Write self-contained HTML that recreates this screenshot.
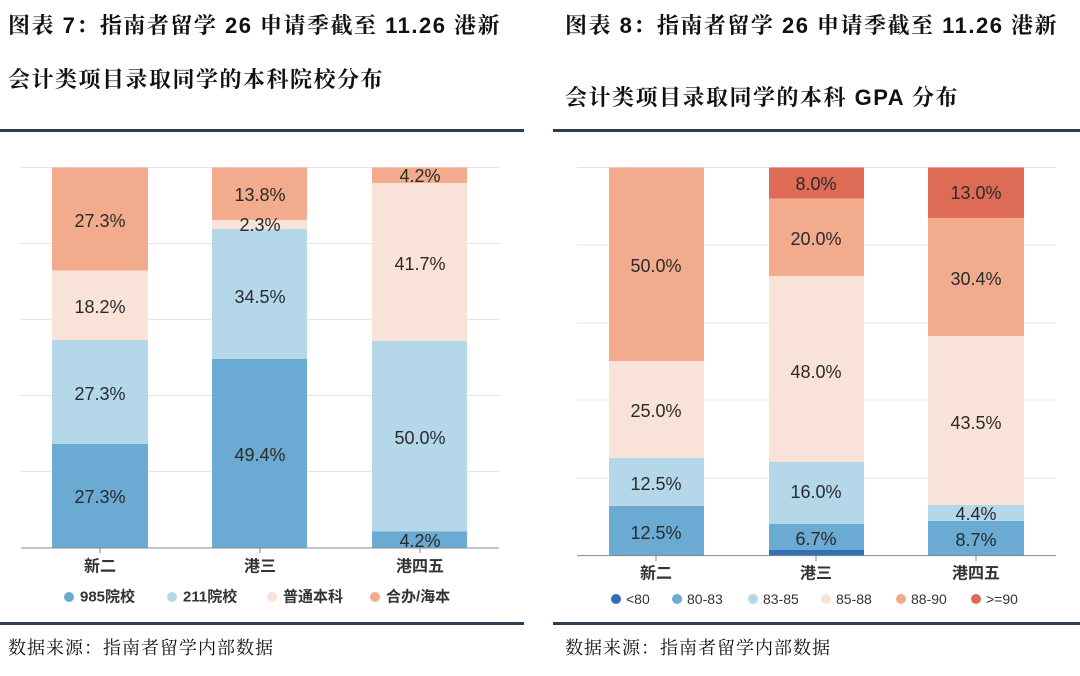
<!DOCTYPE html>
<html><head><meta charset="utf-8"><style>
body{margin:0;width:1080px;height:676px;background:#fff;overflow:hidden;position:relative;font-family:"Liberation Sans","Noto Sans CJK SC",sans-serif}
.t{position:absolute;font-family:"Liberation Sans","Noto Serif CJK SC",serif;font-size:22px;font-weight:bold;color:#111;white-space:nowrap;letter-spacing:1.5px}
.s{position:absolute;font-family:"Liberation Sans","Noto Serif CJK SC",serif;font-size:18px;color:#111;white-space:nowrap;letter-spacing:1px}
.r{position:absolute;height:3px;background:#2d3e50}
</style></head><body>
<div class="t" style="left:8px;top:9px">图表 7：指南者留学 26 申请季截至 11.26 港新</div>
<div class="t" style="left:8px;top:63px">会计类项目录取同学的本科院校分布</div>
<div class="t" style="left:565px;top:9px">图表 8：指南者留学 26 申请季截至 11.26 港新</div>
<div class="t" style="left:565px;top:81px">会计类项目录取同学的本科 GPA 分布</div>
<div class="r" style="left:0;width:524px;top:129px"></div>
<div class="r" style="left:553px;width:527px;top:129px"></div>
<div class="r" style="left:0;width:524px;top:622px"></div>
<div class="r" style="left:553px;width:527px;top:622px"></div>
<div class="s" style="left:8px;top:634px">数据来源：指南者留学内部数据</div>
<div class="s" style="left:565px;top:634px">数据来源：指南者留学内部数据</div>
<svg width="1080" height="676" style="position:absolute;left:0;top:0" font-family="Liberation Sans,Noto Sans CJK SC,sans-serif">
<g stroke="#e3e3e3" stroke-width="1">
<line x1="21" x2="499" y1="167.5" y2="167.5"/><line x1="21" x2="499" y1="243.5" y2="243.5"/><line x1="21" x2="499" y1="319.5" y2="319.5"/><line x1="21" x2="499" y1="395.5" y2="395.5"/><line x1="21" x2="499" y1="471.5" y2="471.5"/>
<line x1="577" x2="1056" y1="167.5" y2="167.5"/><line x1="577" x2="1056" y1="245" y2="245"/><line x1="577" x2="1056" y1="323" y2="323"/><line x1="577" x2="1056" y1="400" y2="400"/><line x1="577" x2="1056" y1="478" y2="478"/>
</g>
<rect x="52" y="167.5" width="96" height="103" fill="#f3ab8d"/><rect x="52" y="270.5" width="96" height="69.5" fill="#f9e3d8"/><rect x="52" y="340" width="96" height="104" fill="#b5d7ea"/><rect x="52" y="444" width="96" height="104" fill="#6aaad3"/>
<rect x="212" y="167.5" width="95" height="52.5" fill="#f3ab8d"/><rect x="212" y="220" width="95" height="9" fill="#f9e3d8"/><rect x="212" y="229" width="95" height="130" fill="#b5d7ea"/><rect x="212" y="359" width="95" height="189" fill="#6aaad3"/>
<rect x="372" y="167.5" width="95" height="15.5" fill="#f3ab8d"/><rect x="372" y="183" width="95" height="158" fill="#f9e3d8"/><rect x="372" y="341" width="95" height="190.5" fill="#b5d7ea"/><rect x="372" y="531.5" width="95" height="16.5" fill="#6aaad3"/>
<line x1="21" x2="499" y1="548" y2="548" stroke="#888"/>
<g stroke="#888"><line x1="100" x2="100" y1="548" y2="553"/><line x1="260" x2="260" y1="548" y2="553"/><line x1="420" x2="420" y1="548" y2="553"/></g>
<g font-size="18" fill="#2a2a2a" text-anchor="middle" dominant-baseline="central">
<text x="100" y="221">27.3%</text><text x="100" y="307">18.2%</text><text x="100" y="394">27.3%</text><text x="100" y="497">27.3%</text>
<text x="260" y="195">13.8%</text><text x="260" y="225">2.3%</text><text x="260" y="297">34.5%</text><text x="260" y="455">49.4%</text>
<text x="420" y="176">4.2%</text><text x="420" y="264">41.7%</text><text x="420" y="438">50.0%</text><text x="420" y="541">4.2%</text>
</g>
<g font-size="16" font-weight="bold" fill="#333" text-anchor="middle" dominant-baseline="central">
<text x="100" y="567">新二</text><text x="260" y="567">港三</text><text x="420" y="567">港四五</text>
<text x="656" y="574">新二</text><text x="816" y="574">港三</text><text x="976" y="574">港四五</text>
</g>
<g font-size="15" font-weight="bold" fill="#333" dominant-baseline="central">
<circle cx="69" cy="597" r="5" fill="#6aaad3"/><text x="80" y="597">985院校</text>
<circle cx="172" cy="597" r="5" fill="#b5d7ea"/><text x="183" y="597">211院校</text>
<circle cx="272" cy="597" r="5" fill="#f9e3d8"/><text x="283" y="597">普通本科</text>
<circle cx="375" cy="597" r="5" fill="#f3ab8d"/><text x="386" y="597">合办/海本</text>
</g>
<rect x="609" y="167.5" width="95" height="193.5" fill="#f3ab8d"/><rect x="609" y="361" width="95" height="97" fill="#f9e3d8"/><rect x="609" y="458" width="95" height="48" fill="#b5d7ea"/><rect x="609" y="506" width="95" height="49.6" fill="#6aaad3"/>
<rect x="769" y="167.5" width="95" height="31" fill="#dd6b55"/><rect x="769" y="198.5" width="95" height="77.5" fill="#f3ab8d"/><rect x="769" y="276" width="95" height="186" fill="#f9e3d8"/><rect x="769" y="462" width="95" height="62" fill="#b5d7ea"/><rect x="769" y="524" width="95" height="26" fill="#6aaad3"/><rect x="769" y="550" width="95" height="5.6" fill="#2f6fb3"/>
<rect x="928" y="167.5" width="96" height="50.5" fill="#dd6b55"/><rect x="928" y="218" width="96" height="118" fill="#f3ab8d"/><rect x="928" y="336" width="96" height="169" fill="#f9e3d8"/><rect x="928" y="505" width="96" height="16" fill="#b5d7ea"/><rect x="928" y="521" width="96" height="34.6" fill="#6aaad3"/>
<line x1="577" x2="1056" y1="555.6" y2="555.6" stroke="#888"/>
<g stroke="#888"><line x1="656" x2="656" y1="556" y2="561"/><line x1="816" x2="816" y1="556" y2="561"/><line x1="976" x2="976" y1="556" y2="561"/></g>
<g font-size="18" fill="#2a2a2a" text-anchor="middle" dominant-baseline="central">
<text x="656" y="266">50.0%</text><text x="656" y="411">25.0%</text><text x="656" y="484">12.5%</text><text x="656" y="533">12.5%</text>
<text x="816" y="184">8.0%</text><text x="816" y="239">20.0%</text><text x="816" y="372">48.0%</text><text x="816" y="492">16.0%</text><text x="816" y="539">6.7%</text>
<text x="976" y="193">13.0%</text><text x="976" y="279">30.4%</text><text x="976" y="423">43.5%</text><text x="976" y="514">4.4%</text><text x="976" y="540">8.7%</text>
</g>
<g font-size="14" fill="#333" dominant-baseline="central">
<circle cx="616" cy="599" r="5" fill="#2f6fb3"/><text x="626" y="599">&lt;80</text>
<circle cx="677" cy="599" r="5" fill="#6aaad3"/><text x="687" y="599">80-83</text>
<circle cx="753" cy="599" r="5" fill="#b5d7ea"/><text x="763" y="599">83-85</text>
<circle cx="826" cy="599" r="5" fill="#f9e3d8"/><text x="836" y="599">85-88</text>
<circle cx="901" cy="599" r="5" fill="#f3ab8d"/><text x="911" y="599">88-90</text>
<circle cx="976" cy="599" r="5" fill="#dd6b55"/><text x="986" y="599">&gt;=90</text>
</g>
</svg>
</body></html>
